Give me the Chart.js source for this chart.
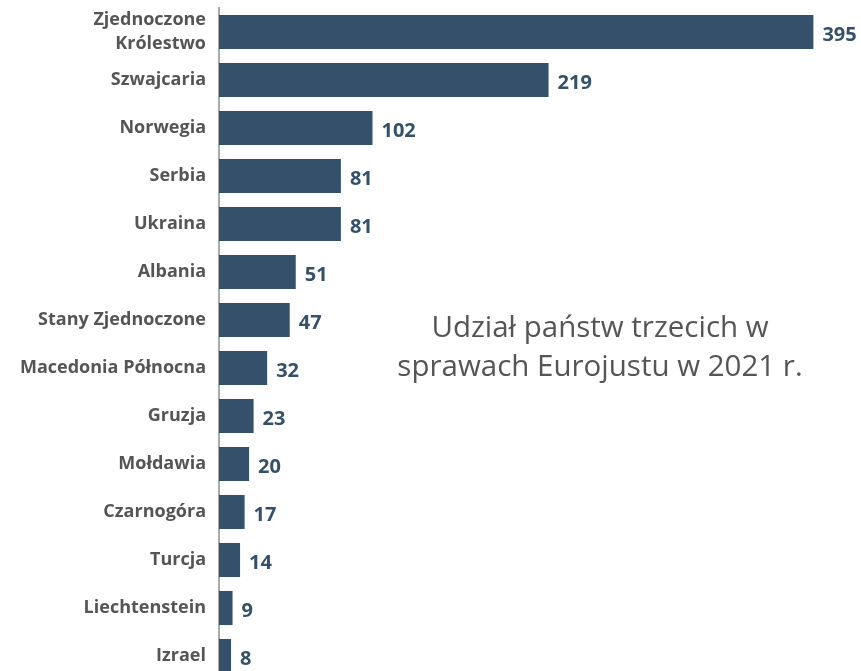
<!DOCTYPE html>
<html>
<head>
<meta charset="utf-8">
<script src="https://cdn.jsdelivr.net/npm/chart.js@4/dist/chart.umd.min.js"></script>
<style>
  html, body { margin: 0; padding: 0; background: #fff; overflow: hidden; }
  #wrap { position: relative; width: 861px; height: 681px; }
  #title {
    position: absolute; left: 360px; top: 306px; width: 480px;
    text-align: center; font-family: "Open Sans", sans-serif;
    font-size: 29.5px; line-height: 39px; color: #555;
  }
</style>
</head>
<body>
<div id="wrap">
  <canvas id="chart"></canvas>
  <div id="title">Udział państw trzecich w<br>sprawach Eurojustu w 2021 r.</div>
</div>
<script>
'use strict';

const countries = [
  ['Zjednoczone', 'Królestwo'], 'Szwajcaria', 'Norwegia', 'Serbia', 'Ukraina',
  'Albania', 'Stany Zjednoczone', 'Macedonia Północna', 'Gruzja', 'Mołdawia',
  'Czarnogóra', 'Turcja', 'Liechtenstein', 'Izrael'
];
const cases = [395, 219, 102, 81, 81, 51, 47, 32, 23, 20, 17, 14, 9, 8];

let canvasElem = document.getElementById('chart');

// value labels to the right of each bar
const valueLabels = {
  id: 'valueLabels',
  afterDatasetsDraw(chart) {
    const ctx = chart.ctx;
    const meta = chart.getDatasetMeta(0);
    ctx.save();
    ctx.font = 'bold 20px "Open Sans"';
    ctx.fillStyle = '#34506a';
    ctx.textBaseline = 'middle';
    meta.data.forEach((bar, i) => {
      ctx.fillText(cases[i], bar.x + 9, bar.y + 3);
    });
    ctx.restore();
  }
};

function renderChart() {
  const chartData = {
    labels: countries,
    datasets: [{
      data: cases,
      backgroundColor: '#34506a',
      barPercentage: 0.71,
      categoryPercentage: 1
    }]
  };

  const config = {
    type: 'bar',
    data: chartData,
    plugins: [valueLabels],
    options: {
      indexAxis: 'y',
      responsive: false,
      animation: false,
      layout: { padding: { top: 8, right: 10, bottom: 1, left: 0 } },
      plugins: { legend: { display: false }, tooltip: { enabled: false } },
      scales: {
        x: { display: false, min: 0, max: 420 },
        y: {
          afterFit(scale) {
            scale.width = 219;
            scale.paddingTop = 0;
            scale.paddingBottom = 0;
          },
          grid: { display: false, drawTicks: false },
          border: { display: true, color: '#aaa', width: 2 },
          ticks: {
            autoSkip: false,
            padding: 13,
            color: '#555',
            font: { family: '"Open Sans"', size: 18, weight: 'bold', lineHeight: 1.33 }
          }
        }
      }
    }
  };

  canvasElem.width = 861;
  canvasElem.height = 681;
  new Chart(canvasElem, config);
}

renderChart();
</script>
</body>
</html>
